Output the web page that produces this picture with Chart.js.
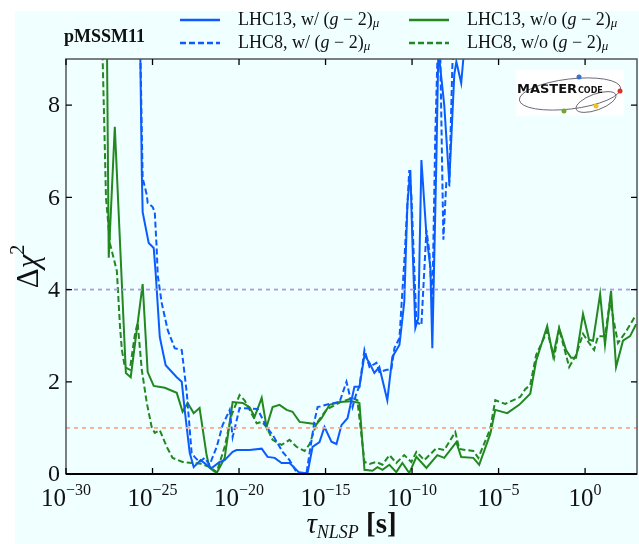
<!DOCTYPE html>
<html>
<head>
<meta charset="utf-8">
<script src="https://cdn.jsdelivr.net/npm/chart.js@4.4.1/dist/chart.umd.min.js"></script>
<style>
  html, body { margin: 0; padding: 0; background: #fff; }
  #wrap { width: 639px; height: 544px; position: relative; }
</style>
</head>
<body>
<div id="wrap"><canvas id="chart"></canvas></div>
<script>
// x values are log10(tau_NLSP / s)
const xMin = -30, xMax = 3;
const yMin = 0, yMax = 9;
const xTicks = [-30, -25, -20, -15, -10, -5, 0];
const yTicks = [0, 2, 4, 6, 8];
const refLevels = [4, 1];
const refColors = ['#a59ce2', '#ffa983'];

// LHC13, w/ (g-2)
const lhc13WithX = [-25.72, -25.62, -25.57, -25.22, -24.93, -24.81, -24.58, -24.24, -23.60, -23.31, -23.14, -22.85, -22.62, -22.22, -21.87, -21.58, -21.12, -20.83, -20.37, -20.14, -19.39, -18.69, -18.35, -17.94, -17.54, -17.08, -16.68, -16.50, -16.04, -15.75, -15.35, -15.06, -14.66, -14.37, -14.08, -13.73, -13.33, -13.04, -12.75, -12.46, -12.18, -11.89, -11.43, -11.14, -10.73, -10.45, -10.27, -10.10, -9.98, -9.81, -9.64, -9.46, -9.17, -8.94, -8.83, -8.60, -8.48, -8.14, -7.85, -7.56, -7.44, -7.16, -6.92, -6.40];
const lhc13WithY = [9.5, 6.55, 5.68, 5.01, 4.90, 4.32, 2.97, 2.36, 2.10, 2.00, 1.39, 0.46, 0.15, 0.30, 0.20, 0.13, 0.26, 0.30, 0.48, 0.52, 0.52, 0.55, 0.37, 0.35, 0.24, 0.24, 0.09, 0.02, 0.02, 0.59, 0.69, 1.02, 0.70, 0.65, 1.06, 1.21, 1.89, 1.89, 2.58, 2.41, 2.19, 2.32, 1.60, 2.54, 2.80, 3.73, 5.84, 6.59, 5.03, 3.17, 3.38, 6.81, 5.18, 4.47, 2.73, 6.70, 9.20, 8.00, 6.33, 8.66, 8.94, 8.48, 9.5, 11];

// LHC8, w/ (g-2)
const lhc8WithX = [-25.72, -25.57, -25.33, -25.28, -24.99, -24.87, -24.76, -24.70, -24.47, -24.12, -23.72, -23.31, -23.02, -22.74, -22.57, -22.28, -21.99, -21.70, -21.29, -20.95, -20.54, -20.37, -19.97, -18.93, -18.41, -18.06, -17.48, -17.08, -16.68, -16.10, -15.64, -15.46, -14.77, -14.19, -13.79, -13.44, -13.21, -13.04, -12.75, -12.46, -12.06, -11.89, -11.48, -11.20, -11.02, -10.73, -10.45, -10.16, -10.04, -9.75, -9.46, -9.17, -9.00, -8.83, -8.66, -8.54, -8.37, -8.19, -8.02, -7.85, -7.67, -7.50, -6.98];
const lhc8WithY = [9.5, 6.42, 6.05, 5.88, 5.79, 5.68, 4.90, 4.32, 3.71, 3.12, 2.73, 2.69, 1.76, 0.46, 0.37, 0.26, 0.35, 0.20, 0.59, 1.06, 1.39, 0.80, 1.43, 1.41, 1.02, 0.85, 0.48, 0.30, 0.04, 0.02, 1.15, 1.45, 1.52, 1.56, 2.00, 1.45, 1.76, 1.90, 2.69, 2.32, 2.41, 2.21, 2.26, 2.26, 2.73, 2.95, 4.60, 6.59, 6.05, 3.30, 3.23, 5.29, 4.82, 3.67, 7.29, 8.94, 9.10, 5.08, 6.33, 6.27, 8.87, 9.6, 10.5];

// LHC13, w/o (g-2)
const lhc13WithoutX = [-27.64, -27.53, -27.18, -26.54, -26.26, -25.57, -25.28, -24.93, -24.29, -23.60, -23.26, -22.97, -22.62, -22.28, -21.87, -21.70, -21.29, -20.83, -20.37, -19.79, -19.39, -19.10, -18.69, -18.41, -18.06, -17.66, -17.25, -16.91, -16.50, -15.92, -15.52, -15.23, -14.77, -14.19, -13.50, -13.04, -12.75, -12.29, -12.00, -11.71, -11.31, -10.91, -10.56, -10.16, -9.75, -9.17, -8.54, -8.14, -7.44, -7.16, -6.46, -6.12, -5.48, -5.19, -4.50, -3.81, -3.17, -2.83, -2.19, -1.85, -1.50, -1.10, -0.81, -0.52, -0.12, 0.23, 0.46, 0.87, 1.15, 1.50, 1.79, 2.19, 2.60, 2.95];
const lhc13WithoutY = [9.6, 4.69, 7.53, 2.19, 2.10, 4.12, 2.21, 1.91, 1.87, 1.76, 1.35, 1.54, 1.32, 1.43, 0.40, 0.13, 0.02, 0.35, 1.56, 1.54, 1.45, 1.24, 1.65, 1.02, 1.45, 1.50, 1.39, 1.35, 1.13, 1.10, 1.08, 1.21, 1.50, 1.56, 1.58, 1.54, 0.09, 0.07, 0.15, 0.09, 0.20, 0.04, 0.24, 0.02, 0.37, 0.13, 0.41, 0.35, 0.69, 0.37, 0.35, 0.20, 0.87, 1.39, 1.32, 1.50, 1.74, 2.45, 3.21, 2.56, 3.17, 2.69, 2.52, 2.52, 3.47, 2.91, 2.89, 3.90, 2.80, 3.97, 2.32, 2.89, 2.99, 3.25];

// LHC8, w/o (g-2)
const lhc8WithoutX = [-27.90, -27.79, -27.69, -27.46, -27.06, -26.88, -26.77, -26.60, -26.31, -26.03, -25.86, -25.62, -25.33, -25.05, -24.87, -24.58, -24.18, -23.84, -23.26, -22.68, -22.16, -21.70, -21.29, -20.83, -20.43, -19.97, -19.68, -19.39, -18.98, -18.69, -18.41, -18.06, -17.54, -17.08, -16.68, -16.21, -15.92, -15.52, -14.94, -14.19, -13.44, -13.16, -12.75, -12.46, -12.06, -11.71, -11.31, -10.91, -10.45, -10.04, -9.75, -9.29, -8.60, -8.14, -7.50, -7.27, -6.46, -6.17, -5.48, -5.19, -4.62, -3.75, -3.46, -3.17, -2.83, -2.19, -1.79, -1.50, -0.92, -0.52, -0.12, 0.23, 0.52, 0.75, 1.15, 1.44, 1.90, 2.31, 2.83, 2.95];
const lhc8WithoutY = [9.3, 7.6, 6.0, 5.0, 4.4, 3.2, 2.69, 2.32, 2.26, 3.00, 3.28, 2.26, 1.54, 1.02, 0.89, 0.95, 0.59, 0.35, 0.26, 0.24, 0.22, 0.15, 0.04, 0.59, 1.28, 1.71, 1.60, 1.39, 1.10, 1.13, 1.02, 0.74, 0.63, 0.74, 0.59, 0.50, 0.65, 1.10, 1.40, 1.55, 1.65, 1.60, 0.26, 0.22, 0.26, 0.20, 0.41, 0.24, 0.41, 0.26, 0.48, 0.30, 0.56, 0.52, 0.91, 0.54, 0.50, 0.35, 0.98, 1.60, 1.52, 1.67, 1.84, 1.93, 2.58, 3.10, 2.52, 3.15, 2.32, 2.58, 3.04, 2.84, 2.69, 2.99, 2.99, 3.75, 2.84, 3.06, 3.38, 3.45];

const BLUE = '#0b5cff';
const GREEN = '#22881f';
const SERIF = '"Liberation Serif", "DejaVu Serif", serif';

function toPoints(xs, ys) {
    return xs.map((x, i) => ({ x: x, y: ys[i] }));
}

// draws text made of pieces with their own font and vertical offset
function richText(ctx, parts, x, y, align) {
    let total = 0;
    parts.forEach(p => {
        ctx.font = p.font;
        p.w = ctx.measureText(p.text).width;
        total += p.w;
    });
    let cx = x;
    if (align === 'center') cx = x - total / 2;
    if (align === 'right') cx = x - total;
    ctx.textAlign = 'left';
    parts.forEach(p => {
        ctx.font = p.font;
        ctx.fillText(p.text, cx, y + (p.dy || 0));
        cx += p.w;
    });
}

function gm2Label(prefix) {
    return [
        { text: prefix + ' (', font: `18px ${SERIF}` },
        { text: 'g', font: `italic 18px ${SERIF}` },
        { text: ' − 2)', font: `18px ${SERIF}` },
        { text: 'μ', font: `italic 13px ${SERIF}`, dy: 4 }
    ];
}

const legendItems = [
    { parts: gm2Label('LHC13, w/'), color: BLUE, dash: [], col: 0, row: 0 },
    { parts: gm2Label('LHC8, w/'), color: BLUE, dash: [6, 3], col: 0, row: 1 },
    { parts: gm2Label('LHC13, w/o'), color: GREEN, dash: [], col: 1, row: 0 },
    { parts: gm2Label('LHC8, w/o'), color: GREEN, dash: [6, 3], col: 1, row: 1 }
];

const backgroundPlugin = {
    id: 'figBackground',
    beforeDraw(chart) {
        const ctx = chart.ctx;
        ctx.save();
        ctx.fillStyle = '#ffffff';
        ctx.fillRect(0, 0, chart.width, chart.height);
        ctx.fillStyle = '#f0ffff';
        ctx.fillRect(15, 11, chart.width - 15, chart.height - 11);
        ctx.restore();
    }
};

function drawLogo(ctx, x, y) {
    ctx.save();
    ctx.fillStyle = '#ffffff';
    ctx.fillRect(x, y, 108, 46);
    ctx.strokeStyle = '#6a6a7a';
    ctx.lineWidth = 1;
    ctx.beginPath();
    ctx.ellipse(x + 54, y + 24, 51, 15, -0.12, 0, Math.PI * 2);
    ctx.stroke();
    ctx.beginPath();
    ctx.ellipse(x + 80, y + 32, 21, 8, -0.35, 0, Math.PI * 2);
    ctx.stroke();
    ctx.fillStyle = '#111';
    ctx.font = 'bold 13px "DejaVu Sans", sans-serif';
    ctx.textBaseline = 'alphabetic';
    ctx.fillText('MASTER', x + 1, y + 23);
    ctx.font = 'bold 8px "DejaVu Sans", sans-serif';
    ctx.fillText('CODE', x + 62, y + 23);
    const dots = [[63, 7, '#3c6fd0'], [104, 21, '#e0302a'], [48, 41, '#6aab2e'], [80, 36, '#f2c21c']];
    dots.forEach(d => {
        ctx.fillStyle = d[2];
        ctx.beginPath();
        ctx.arc(x + d[0], y + d[1], 2.5, 0, Math.PI * 2);
        ctx.fill();
    });
    ctx.restore();
}

const decorPlugin = {
    id: 'decor',
    afterDraw(chart) {
        const ctx = chart.ctx;
        const area = chart.chartArea;
        const xs = chart.scales.x;
        const ys = chart.scales.y;
        ctx.save();

        // frame
        ctx.strokeStyle = '#555';
        ctx.lineWidth = 1.5;
        ctx.strokeRect(area.left, area.top, area.right - area.left, area.bottom - area.top);
        ctx.strokeStyle = '#000';
        ctx.lineWidth = 2;
        ctx.beginPath();
        ctx.moveTo(area.left, area.bottom);
        ctx.lineTo(area.right, area.bottom);
        ctx.stroke();

        // inward ticks on all sides
        ctx.strokeStyle = '#000';
        ctx.lineWidth = 1.3;
        xTicks.forEach(v => {
            const px = xs.getPixelForValue(v);
            ctx.beginPath();
            ctx.moveTo(px, area.bottom); ctx.lineTo(px, area.bottom - 6);
            ctx.moveTo(px, area.top); ctx.lineTo(px, area.top + 6);
            ctx.stroke();
        });
        yTicks.forEach(v => {
            const py = ys.getPixelForValue(v);
            ctx.beginPath();
            ctx.moveTo(area.left, py); ctx.lineTo(area.left + 6, py);
            ctx.moveTo(area.right, py); ctx.lineTo(area.right - 6, py);
            ctx.stroke();
        });

        // tick labels
        ctx.fillStyle = '#111';
        ctx.textBaseline = 'alphabetic';
        xTicks.forEach(v => {
            const px = xs.getPixelForValue(v);
            const exp = v < 0 ? '−' + Math.abs(v) : String(v);
            richText(ctx, [
                { text: '10', font: `25px ${SERIF}` },
                { text: exp, font: `16px ${SERIF}`, dy: -11 }
            ], px, area.bottom + 32, 'center');
        });
        ctx.textBaseline = 'middle';
        yTicks.forEach(v => {
            const py = ys.getPixelForValue(v);
            richText(ctx, [{ text: String(v), font: `24px ${SERIF}` }], area.left - 6, py + 1, 'right');
        });

        // axis titles
        ctx.textBaseline = 'alphabetic';
        richText(ctx, [
            { text: 'τ', font: `italic 29px ${SERIF}` },
            { text: 'NLSP', font: `italic 18px ${SERIF}`, dy: 5 },
            { text: ' [s]', font: `bold 29px ${SERIF}` }
        ], (area.left + area.right) / 2, 533, 'center');

        ctx.save();
        ctx.translate(30, (area.top + area.bottom) / 2);
        ctx.rotate(-Math.PI / 2);
        ctx.textBaseline = 'middle';
        richText(ctx, [
            { text: 'Δ', font: `31px ${SERIF}` },
            { text: 'χ', font: `italic 31px ${SERIF}` },
            { text: '2', font: `20px ${SERIF}`, dy: -11 }
        ], 0, 0, 'center');
        ctx.restore();

        // model label and legend
        ctx.textBaseline = 'middle';
        richText(ctx, [{ text: 'pMSSM11', font: `bold 18px ${SERIF}` }], 64, 37, 'left');

        const colLine = [180, 409];
        const rowY = [20, 43];
        legendItems.forEach(item => {
            const lx = colLine[item.col];
            const ly = rowY[item.row];
            ctx.strokeStyle = item.color;
            ctx.lineWidth = 2.5;
            ctx.setLineDash(item.dash);
            ctx.beginPath();
            ctx.moveTo(lx, ly); ctx.lineTo(lx + 40, ly);
            ctx.stroke();
            ctx.setLineDash([]);
            ctx.fillStyle = '#111';
            richText(ctx, item.parts, lx + 58, ly, 'left');
        });

        drawLogo(ctx, 516, 70);
        ctx.restore();
    }
};

function lineSet(label, xs, ys, color, dash) {
    return {
        label: label,
        data: toPoints(xs, ys),
        borderColor: color,
        borderWidth: 2,
        borderDash: dash,
        pointRadius: 0,
        tension: 0,
        fill: false
    };
}

document.addEventListener('DOMContentLoaded', function() {
    const datasets = refLevels.map((lvl, i) => ({
        label: 'ref ' + lvl,
        data: [{ x: xMin, y: lvl }, { x: xMax, y: lvl }],
        borderColor: refColors[i],
        borderWidth: 1.8,
        borderDash: [4, 4],
        pointRadius: 0
    }));
    datasets.push(lineSet('LHC13, w/ (g-2)', lhc13WithX, lhc13WithY, BLUE, []));
    datasets.push(lineSet('LHC8, w/ (g-2)', lhc8WithX, lhc8WithY, BLUE, [6, 3]));
    datasets.push(lineSet('LHC13, w/o (g-2)', lhc13WithoutX, lhc13WithoutY, GREEN, []));
    datasets.push(lineSet('LHC8, w/o (g-2)', lhc8WithoutX, lhc8WithoutY, GREEN, [6, 3]));

    new Chart(document.getElementById('chart').getContext('2d'), {
        type: 'line',
        data: { datasets: datasets },
        options: {
            responsive: true,
            maintainAspectRatio: false,
            animation: false,
            layout: { padding: { left: 66, right: 2, top: 59, bottom: 70 } },
            scales: {
                x: { type: 'linear', min: xMin, max: xMax, display: false },
                y: { type: 'linear', min: yMin, max: yMax, display: false }
            },
            plugins: { legend: { display: false }, tooltip: { enabled: false } }
        },
        plugins: [backgroundPlugin, decorPlugin]
    });
});
</script>
</body>
</html>
